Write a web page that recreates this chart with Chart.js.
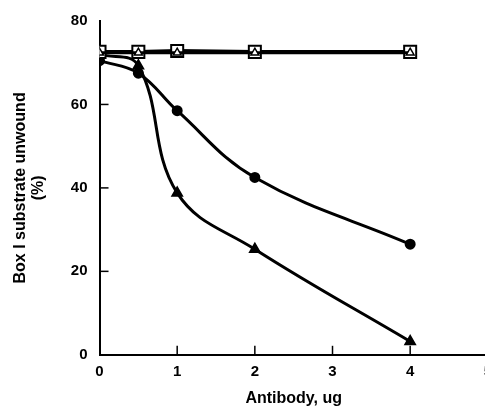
<!DOCTYPE html>
<html>
<head>
<meta charset="utf-8">
<script src="https://cdn.jsdelivr.net/npm/chart.js@4.4.0/dist/chart.umd.min.js"></script>
<style>
  html, body { margin: 0; padding: 0; background: #fff; overflow: hidden; }
  #wrap { width: 500px; height: 410px; }
</style>
</head>
<body>
<div id="wrap"><canvas id="myChart"></canvas></div>
<script>
// antibody amounts (ug)
var doses = [0, 0.5, 1, 2, 4];
var openTriangle = [72.4, 72.4, 72.4, 72.4, 72.4];
var openSquare = [72.6, 72.6, 72.8, 72.6, 72.6];
var filledCircle = [70.5, 67.5, 58.5, 42.5, 26.5];
var filledTriangle = [72, 69.3, 38.8, 25.3, 3.2];
var xTicks = [0, 1, 2, 3, 4, 5];
var yTicks = [0, 20, 40, 60, 80];

function pts(vals) {
  return doses.map(function (d, i) { return { x: d, y: vals[i] }; });
}

// ticks pointing into the plot, like the original figure
var inwardTicks = {
  id: 'inwardTicks',
  afterDraw: function (chart) {
    var ctx = chart.ctx, xs = chart.scales.x, ys = chart.scales.y, a = chart.chartArea;
    ctx.save();
    ctx.strokeStyle = '#000';
    ctx.lineWidth = 1.5;
    xTicks.forEach(function (t) {
      if (t == 0 || t == 5) return;
      var px = xs.getPixelForValue(t);
      ctx.beginPath(); ctx.moveTo(px, a.bottom); ctx.lineTo(px, a.bottom - 9); ctx.stroke();
    });
    yTicks.forEach(function (t) {
      if (t == 0 || t == 80) return;
      var py = ys.getPixelForValue(t);
      ctx.beginPath(); ctx.moveTo(a.left, py); ctx.lineTo(a.left + 9, py); ctx.stroke();
    });
    ctx.restore();
  }
};

new Chart("myChart", {
  type: "line",
  data: {
    datasets: [{
      label: "open triangle",
      data: pts(openTriangle),
      borderColor: "#000",
      borderWidth: 3,
      pointStyle: "triangle",
      pointRadius: 4.5,
      pointBorderWidth: 1.5,
      pointBackgroundColor: "#fff",
      pointBorderColor: "#000"
    }, {
      label: "open square",
      data: pts(openSquare),
      borderColor: "#000",
      borderWidth: 4,
      pointStyle: "rect",
      pointRadius: 8.5,
      pointBorderWidth: 2,
      pointBackgroundColor: "#fff",
      pointBorderColor: "#000"
    }, {
      label: "filled circle",
      data: pts(filledCircle),
      borderColor: "#000",
      borderWidth: 3,
      tension: 0.4,
      pointStyle: "circle",
      pointRadius: 4,
      pointBackgroundColor: "#000",
      pointBorderColor: "#000"
    }, {
      label: "filled triangle",
      data: pts(filledTriangle),
      borderColor: "#000",
      borderWidth: 3,
      tension: 0.4,
      pointStyle: "triangle",
      pointRadius: 4.5,
      pointBackgroundColor: "#000",
      pointBorderColor: "#000"
    }]
  },
  options: {
    responsive: true,
    maintainAspectRatio: false,
    animation: false,
    layout: { padding: { top: 12, right: 0, bottom: 0, left: 12 } },
    plugins: { legend: { display: false }, tooltip: { enabled: false } },
    scales: {
      x: {
        type: "linear",
        min: 0, max: 5,
        afterBuildTicks: function (s) { s.ticks = xTicks.map(function (v) { return { value: v }; }); },
        grid: { display: false, drawTicks: false },
        border: { display: true, color: "#000", width: 2 },
        ticks: { color: "#000", padding: 8, font: { family: "Liberation Sans", size: 15, weight: "bold" } },
        title: { display: true, text: "Antibody, ug", color: "#000", padding: { top: 0, bottom: 2 },
                 font: { family: "Liberation Sans", size: 16, weight: "bold" } }
      },
      y: {
        min: 0, max: 80,
        afterBuildTicks: function (s) { s.ticks = yTicks.map(function (v) { return { value: v }; }); },
        grid: { display: false, drawTicks: false },
        border: { display: true, color: "#000", width: 2 },
        ticks: { color: "#000", padding: 12, font: { family: "Liberation Sans", size: 15, weight: "bold" } },
        title: { display: true, text: ["Box I substrate unwound", "(%)"], color: "#000", padding: { top: 0, bottom: 11 },
                 font: { family: "Liberation Sans", size: 16, weight: "bold", lineHeight: 1.12 } }
      }
    }
  },
  plugins: [inwardTicks]
});
</script>
</body>
</html>
